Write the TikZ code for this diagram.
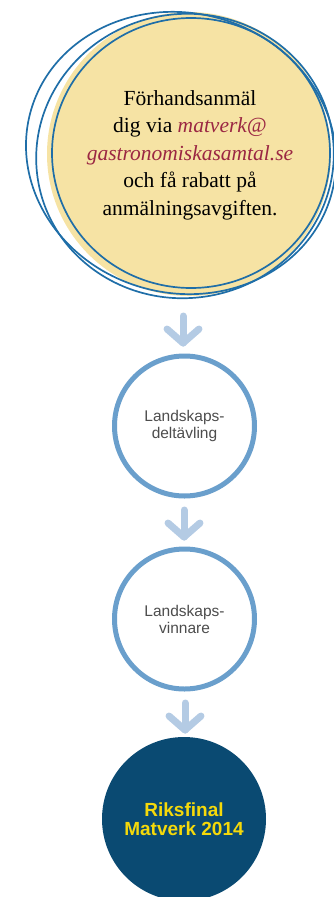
\documentclass[tikz,border=0pt]{standalone}
\usepackage{fontspec}
\usetikzlibrary{calc}
\setmainfont{Liberation Serif}
\setsansfont{Liberation Sans}
\definecolor{ringblue}{HTML}{1F6EA8}
\definecolor{paleyellow}{HTML}{F6E3A4}
\definecolor{mailred}{HTML}{9B2743}
\definecolor{arrowblue}{HTML}{B4CBE4}
\definecolor{circblue}{HTML}{6A9FCC}
\definecolor{darkblue}{HTML}{0A4A72}
\definecolor{goldtext}{HTML}{F5D90A}
\definecolor{graytext}{HTML}{4D4D4D}
\begin{document}
\begin{tikzpicture}[x=1pt,y=1pt,
  ring/.style={draw=ringblue,line width=1.7pt},
  flowarrow/.style={draw=arrowblue,line width=7pt,line cap=round,line join=round},
  stagecirc/.style={circle,draw=circblue,line width=5pt,fill=white,minimum size=140pt,inner sep=0pt,align=center,font=\sffamily\fontsize{15.5}{17}\selectfont,text=graytext},
  finalcirc/.style={circle,fill=darkblue,minimum size=164pt,inner sep=0pt,align=center,font=\sffamily\bfseries\fontsize{19}{18.5}\selectfont,text=goldtext}]
\useasboundingbox (0,0) rectangle (334,-897);
% top circle
\fill[paleyellow] (189,-154) circle (142);
\draw[ring] (191,-153) ellipse [x radius=139, y radius=135];
\draw[ring] (181,-153) [rotate around={-15:(181,-153)}] ellipse [x radius=156, y radius=140];
\draw[ring] (185,-156) [rotate around={10:(185,-156)}] ellipse [x radius=149, y radius=142];
\node[align=center,font=\fontsize{21.5}{27.5}\selectfont] (top) at (190,-155)
 {Förhandsanmäl\\dig via \textcolor{mailred}{\itshape matverk@}\\\textcolor{mailred}{\itshape gastronomiskasamtal.se}\\och få rabatt på\\anmälningsavgiften.};
% stages
\node[stagecirc] (s1) at (184.5,-426) {Landskaps-\\deltävling};
\node[stagecirc] (s2) at (184.5,-619) {Landskaps-\\vinnare};
\node[finalcirc] (fin) at (184,-819) {Riksfinal\\Matverk 2014};
% arrows
\coordinate (a1s) at (183,-316); \coordinate (a1e) at (183,-343);
\coordinate (a2s) at (184,-510); \coordinate (a2e) at (184,-537);
\coordinate (a3s) at (185,-703); \coordinate (a3e) at (185,-730);
\foreach \s/\e in {a1s/a1e,a2s/a2e,a3s/a3e}{
  \draw[flowarrow] (\s) -- (\e);
  \draw[flowarrow] ($(\e)+(-16,14)$) -- (\e) -- ($(\e)+(16,14)$);
}
\end{tikzpicture}
\end{document}
